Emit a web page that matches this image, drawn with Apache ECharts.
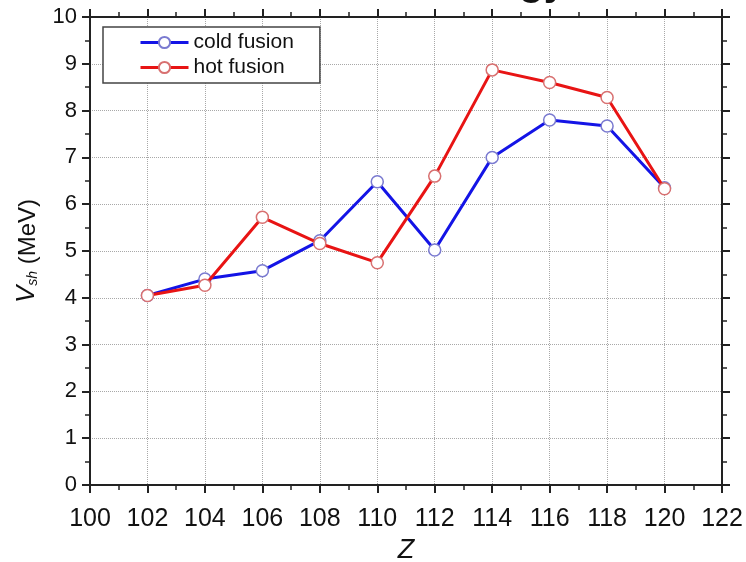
<!DOCTYPE html>
<html>
<head>
<meta charset="utf-8">
<script src="https://cdn.jsdelivr.net/npm/echarts@6/dist/echarts.min.js"></script>
<style>
  html, body { margin: 0; padding: 0; background: #fff; }
  #chart { width: 746px; height: 562px; }
</style>
</head>
<body>
<div id="chart"></div>
<script>
// Proton number of the compound nucleus
const zValues = [102, 104, 106, 108, 110, 112, 114, 116, 118, 120];
// Shell correction V_sh (MeV)
const coldFusion = [4.05, 4.40, 4.58, 5.22, 6.48, 5.02, 7.00, 7.80, 7.67, 6.35];
const hotFusion  = [4.05, 4.27, 5.72, 5.16, 4.75, 6.60, 8.87, 8.60, 8.28, 6.33];
const seriesNames = ['cold fusion', 'hot fusion'];
const titleText = 'Shell Energy';

const FONT = '"Liberation Sans", Arial, sans-serif';
const AXIS_COLOR = '#222';

const pairs = vals => zValues.map((z, i) => [z, vals[i]]);

const chart = echarts.init(document.getElementById('chart'), null, { renderer: 'canvas' });

const baseAxis = {
  axisLine: { show: true, onZero: false, lineStyle: { color: AXIS_COLOR, width: 2 } },
  axisTick: { show: true, inside: false, length: 8, lineStyle: { color: AXIS_COLOR, width: 2 } },
  minorTick: { show: true, splitNumber: 2, length: 5, lineStyle: { color: AXIS_COLOR, width: 1.5 } },
  splitLine: { show: false },
  axisLabel: { show: false }
};

chart.setOption({
  animation: false,
  backgroundColor: '#fff',
  textStyle: { fontFamily: FONT },
  graphic: [{
    type: 'text',
    z: 0,
    style: {
      text: titleText,
      x: 566, y: 4,
      align: 'right',
      verticalAlign: 'bottom',
      font: 'bold 40px ' + FONT,
      fill: '#111'
    }
  }],
  grid: { left: 90, right: 24, top: 17, bottom: 77, containLabel: false, outerBoundsMode: 'none' },
  legend: {
    orient: 'vertical',
    left: 103, top: 27,
    backgroundColor: '#fff',
    borderColor: '#444',
    borderWidth: 1.5,
    borderRadius: 0,
    padding: [5, 26, 5, 36],
    itemWidth: 48, itemHeight: 14, itemGap: 4,
    lineStyle: { width: 3 },
    textStyle: { fontSize: 21, color: '#111', fontFamily: FONT },
    data: seriesNames
  },
  xAxis: [
    Object.assign({}, baseAxis, {
      type: 'value', min: 100, max: 122, interval: 2, position: 'bottom',
      name: 'Z', nameLocation: 'middle', nameGap: 52,
      nameTextStyle: { fontSize: 27, fontStyle: 'italic', color: '#111', fontFamily: FONT },
      axisLabel: { show: true, fontSize: 25, color: '#111', margin: 22 },
      splitLine: { show: true, lineStyle: { type: 'dotted', color: '#a8a8a8', width: 1 } }
    }),
    Object.assign({}, baseAxis, {
      type: 'value', min: 100, max: 122, interval: 2, position: 'top'
    })
  ],
  yAxis: [
    Object.assign({}, baseAxis, {
      type: 'value', min: 0, max: 10, interval: 1, position: 'left',
      name: '{v|V}{s|sh}{u| (MeV)}', nameLocation: 'middle', nameGap: 50, nameRotate: 90,
      nameTextStyle: {
        color: '#111', fontFamily: FONT,
        rich: {
          v: { fontSize: 26, fontStyle: 'italic', color: '#111', verticalAlign: 'bottom', lineHeight: 30 },
          s: { fontSize: 14, fontStyle: 'italic', color: '#111', verticalAlign: 'bottom', lineHeight: 22 },
          u: { fontSize: 24, color: '#111', verticalAlign: 'bottom', lineHeight: 30 }
        }
      },
      axisLabel: { show: true, fontSize: 22, color: '#111', margin: 13 },
      splitLine: { show: true, lineStyle: { type: 'dotted', color: '#a8a8a8', width: 1 } }
    }),
    Object.assign({}, baseAxis, {
      type: 'value', min: 0, max: 10, interval: 1, position: 'right'
    })
  ],
  series: [
    {
      name: seriesNames[0], type: 'line', xAxisIndex: 0, yAxisIndex: 0,
      data: pairs(coldFusion),
      symbol: 'circle', symbolSize: 12,
      lineStyle: { color: '#1414e6', width: 3 },
      itemStyle: { color: '#ffffff', borderColor: '#7a7ad0', borderWidth: 1.5 },
      z: 3
    },
    {
      name: seriesNames[1], type: 'line', xAxisIndex: 0, yAxisIndex: 0,
      data: pairs(hotFusion),
      symbol: 'circle', symbolSize: 12,
      lineStyle: { color: '#e81414', width: 3 },
      itemStyle: { color: '#ffffff', borderColor: '#d87070', borderWidth: 1.5 },
      z: 4
    }
  ]
});
</script>
</body>
</html>
